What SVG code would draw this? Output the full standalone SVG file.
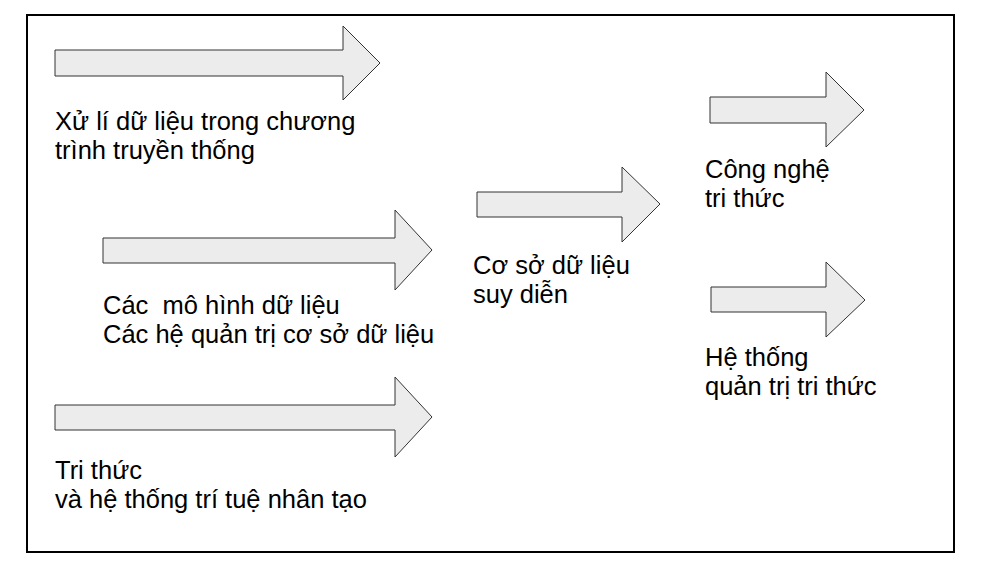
<svg xmlns="http://www.w3.org/2000/svg" width="987" height="570" viewBox="0 0 987 570">
<style>
.a{fill:#ececec;stroke:#333;stroke-width:1}
text{font-family:"Liberation Sans",Arial,sans-serif;font-size:25.5px;fill:#000;white-space:pre}
</style>
<rect width="987" height="570" fill="#fff"/>
<rect x="27" y="15" width="927" height="537" fill="none" stroke="#000" stroke-width="2"/>
<g id="connectors"/>
<g id="n1"><path class="a" d="M55,50H343V26L380,63L343,100V76H55Z"/>
<text x="55" y="130">Xử lí dữ liệu trong chương</text><text x="55" y="159">trình truyền thống</text></g>
<g id="n2"><path class="a" d="M103,238H395V210L432,250L395,290V263H103Z"/>
<text x="103" y="314" xml:space="preserve">Các  mô hình dữ liệu</text><text x="103" y="343">Các hệ quản trị cơ sở dữ liệu</text></g>
<g id="n3"><path class="a" d="M55,405H395V377L432,417L395,457V430H55Z"/>
<text x="55" y="479">Tri thức</text><text x="55" y="508">và hệ thống trí tuệ nhân tạo</text></g>
<g id="n4"><path class="a" d="M477,192H622V167L660,204L622,242V217H477Z"/>
<text x="473" y="274">Cơ sở dữ liệu</text><text x="473" y="303">suy diễn</text></g>
<g id="n5"><path class="a" d="M710,97H826V72L864,110L826,147V123H710Z"/>
<text x="705" y="178">Công nghệ</text><text x="705" y="207">tri thức</text></g>
<g id="n6"><path class="a" d="M711,287H826V262L865,300L826,337V312H711Z"/>
<text x="705" y="366">Hệ thống</text><text x="705" y="395">quản trị tri thức</text></g>
</svg>
